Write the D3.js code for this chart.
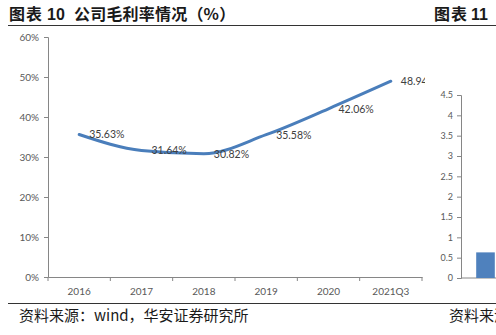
<!DOCTYPE html>
<html><head><meta charset="utf-8">
<script src="https://cdn.jsdelivr.net/npm/d3@7/dist/d3.min.js"></script>
<style>body{margin:0;background:#fff}svg{display:block}</style>
</head><body>
<script>
const categories = ["2016","2017","2018","2019","2020","2021Q3"];
const grossMargin = [35.63, 31.64, 30.82, 35.58, 42.06, 48.94];
const yTicks = [0,10,20,30,40,50,60];
const rightTicks = [0,0.5,1,1.5,2,2.5,3,3.5,4,4.5];
const rightValues = [0.63];

const W=496,H=335;
const svg=d3.select("body").append("svg").attr("width",W).attr("height",H);
const cjk='"Noto Sans CJK SC", sans-serif';
const lat='Lato, "Open Sans", sans-serif';

// header
const hdr=(x,t,ls)=>svg.append("text").attr("x",x).attr("y",20).attr("font-family",cjk).attr("font-weight","bold")
  .attr("font-size",16).attr("fill","#1a1a1a").attr("letter-spacing",ls||0).text(t);
hdr(9,"图表",1);
svg.append("text").attr("x",47).attr("y",20).attr("font-family",'Arial, "Liberation Sans", sans-serif').attr("font-weight","bold")
  .attr("font-size",16).attr("fill","#1a1a1a").text("10");
hdr(74,"公司毛利率情况（%）",0.2);
hdr(434,"图表",1);
svg.append("text").attr("x",471).attr("y",20).attr("font-family",'Arial, "Liberation Sans", sans-serif').attr("font-weight","bold")
  .attr("font-size",16).attr("fill","#1a1a1a").text("11");
svg.append("line").attr("x1",8).attr("x2",W).attr("y1",25.5).attr("y2",25.5).attr("stroke","#333").attr("stroke-width",1.2);
svg.append("line").attr("x1",8).attr("x2",W).attr("y1",303.5).attr("y2",303.5).attr("stroke","#333").attr("stroke-width",1.2);
svg.append("text").attr("x",19).attr("y",321).attr("font-family",cjk).attr("font-size",15).attr("fill","#1a1a1a").text("资料来源：wind，华安证券研究所");
svg.append("text").attr("x",449).attr("y",321).attr("font-family",cjk).attr("font-size",15).attr("fill","#1a1a1a").text("资料来源");

// left chart
svg.append("clipPath").attr("id","lc").append("rect").attr("x",0).attr("y",28).attr("width",425).attr("height",274);
const g=svg.append("g").attr("clip-path","url(#lc)");
const x=d3.scaleBand().domain(categories).range([48,422]);
const y=d3.scaleLinear().domain([0,60]).range([277,37]);

const yAxis=g.append("g").attr("transform","translate(48,0)")
  .call(d3.axisLeft(y).tickValues(yTicks).tickSize(4).tickPadding(5).tickFormat(d=>d+"%"));
const xAxis=g.append("g").attr("transform","translate(0,277)")
  .call(d3.axisBottom(x).tickSize(0).tickPadding(11));
const bounds=categories.map(c=>x(c)).concat([x.range()[1]]);
xAxis.selectAll(".bt").data(bounds).join("line").attr("class","bt")
  .attr("x1",d=>d).attr("x2",d=>d).attr("y1",0).attr("y2",4).attr("stroke","#868686");
[yAxis,xAxis].forEach(a=>{
  a.selectAll(".domain").attr("stroke","#868686");
  a.selectAll(".tick line").attr("stroke","#868686");
  a.selectAll("text").attr("fill","#595959").attr("font-family",lat).attr("font-size",10);
});

const pts=categories.map((c,i)=>({c,v:grossMargin[i]}));
const line=d3.line().x(d=>x(d.c)+x.bandwidth()/2).y(d=>y(d.v)).curve(d3.curveMonotoneX);
g.append("path").datum(pts).attr("d",line).attr("fill","none").attr("stroke","#4a7ebb")
  .attr("stroke-width",3).attr("stroke-linecap","round");
g.selectAll(".lbl").data(pts).join("text").attr("class","lbl")
  .attr("x",d=>x(d.c)+x.bandwidth()/2+10).attr("y",d=>y(d.v)+4)
  .attr("font-family",lat).attr("font-size",10.5).attr("fill","#404040")
  .text(d=>d.v.toFixed(2)+"%");

// right chart (partial)
const y2=d3.scaleLinear().domain([0,4.5]).range([278,95]);
const r=svg.append("g");
const ra=r.append("g").attr("transform","translate(461,0)")
  .call(d3.axisLeft(y2).tickValues(rightTicks).tickSize(4).tickPadding(4).tickFormat(d=>d));
ra.selectAll(".domain").attr("stroke","#868686");
ra.selectAll(".tick line").attr("stroke","#868686");
ra.selectAll("text").attr("fill","#595959").attr("font-family",lat).attr("font-size",9);
r.append("line").attr("x1",461).attr("x2",W).attr("y1",278).attr("y2",278).attr("stroke","#868686");
const x2=d3.scaleBand().domain(["a"]).range([470,501]).padding(0.25);
r.selectAll(".bar").data(rightValues).join("rect").attr("class","bar")
  .attr("x",x2("a")).attr("width",x2.bandwidth()).attr("y",d=>y2(d)).attr("height",d=>y2(0)-y2(d))
  .attr("fill","#4f81bd");
</script>
</body></html>
